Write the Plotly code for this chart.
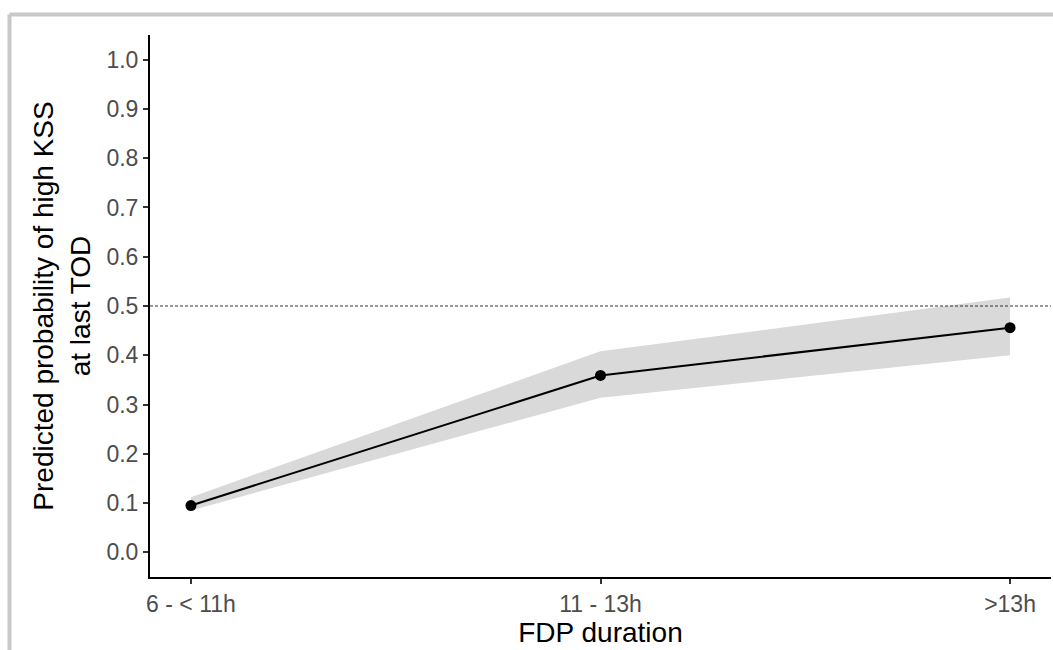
import plotly.graph_objects as go

categories = ["6 - < 11h", "11 - 13h", ">13h"]
predicted = [0.095, 0.359, 0.456]
lower_ci = [0.085, 0.314, 0.400]
upper_ci = [0.112, 0.408, 0.517]
threshold = 0.5
y_ticks = [0.0, 0.1, 0.2, 0.3, 0.4, 0.5, 0.6, 0.7, 0.8, 0.9, 1.0]

xi = list(range(len(categories)))

W, H = 1053, 650
L, R, T, B = 150, 2, 35, 73

fig = go.Figure()
fig.add_trace(go.Scatter(x=xi, y=upper_ci, mode="lines", line=dict(width=0),
                         hoverinfo="skip", showlegend=False))
fig.add_trace(go.Scatter(x=xi, y=lower_ci, mode="lines", line=dict(width=0),
                         fill="tonexty", fillcolor="#d9d9d9",
                         hoverinfo="skip", showlegend=False))
fig.add_trace(go.Scatter(x=xi, y=predicted, mode="lines+markers",
                         line=dict(color="black", width=2),
                         marker=dict(color="black", size=11),
                         showlegend=False))

fig.add_hline(y=threshold, line=dict(color="#333333", width=1, dash="3px,2px"))

# outer frame of the screenshot
pw = W - L - R
ph = H - T - B
fx = (9.5 - L) / pw
fy = (H - B - 14.5) / ph
fig.add_shape(type="line", xref="paper", yref="paper", x0=fx, x1=1.1, y0=fy, y1=fy,
              line=dict(color="#c8c8c8", width=4))
fig.add_shape(type="line", xref="paper", yref="paper", x0=fx, x1=fx, y0=fy, y1=-0.2,
              line=dict(color="#c8c8c8", width=4))

tickfont = dict(family="Liberation Sans, Arial, sans-serif", size=23, color="#4d4d4d")
titlefont = dict(family="Liberation Sans, Arial, sans-serif", size=28, color="black")

fig.update_layout(
    width=W, height=H,
    margin=dict(l=L, r=R, t=T, b=B, pad=0),
    paper_bgcolor="white", plot_bgcolor="white",
    xaxis=dict(
        range=[-0.1, 2.1],
        tickmode="array", tickvals=xi, ticktext=categories,
        showgrid=False, zeroline=False,
        showline=True, linecolor="black", linewidth=2,
        ticks="outside", ticklen=5, tickwidth=1.5, tickcolor="#333333",
        tickfont=tickfont,
        title=dict(text="FDP duration", font=titlefont, standoff=2),
    ),
    yaxis=dict(
        range=[-0.05, 1.05],
        tickmode="array", tickvals=y_ticks, ticktext=[f"{v:.1f}" for v in y_ticks],
        showgrid=False, zeroline=False,
        showline=True, linecolor="black", linewidth=2,
        ticks="outside", ticklen=5, tickwidth=1.5, tickcolor="#333333",
        tickfont=tickfont,
        title=dict(text="Predicted probability of high KSS<br>at last TOD", font=titlefont, standoff=8),
    ),
)

fig.write_html("out.html")
